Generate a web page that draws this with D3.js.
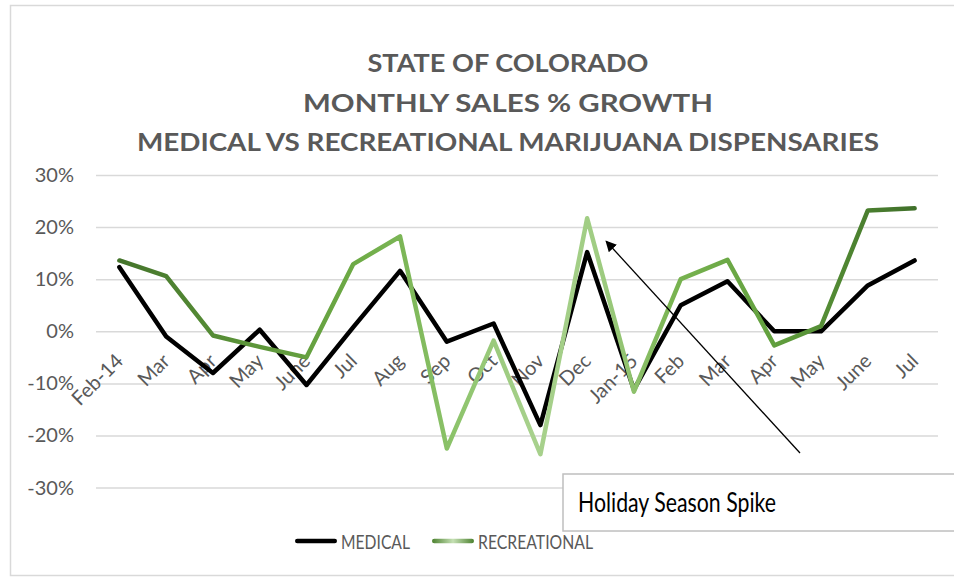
<!DOCTYPE html>
<html>
<head>
<meta charset="utf-8">
<script src="https://cdnjs.cloudflare.com/ajax/libs/d3/7.8.5/d3.min.js"></script>
<style>
  body { margin: 0; background: #fff; overflow: hidden; }
  text { font-family: Lato, "Open Sans", sans-serif; }
</style>
</head>
<body>
<script>

// data
var months = ["Feb-14", "Mar", "Apr", "May", "June", "Jul", "Aug", "Sep", "Oct", "Nov", "Dec",
              "Jan-15", "Feb", "Mar", "Apr", "May", "June", "Jul"];
var medical = [12.3, -1, -8, 0.3, -10.3, 0.8, 11.6, -2, 1.5, -18, 15.2, -11.2, 5, 9.6, 0, 0, 8.8, 13.6];
var recreational = [13.6, 10.6, -0.8, -3, -5, 12.9, 18.2, -22.5, -1.8, -23.6, 21.7, -11.6, 10, 13.7, -2.7, 1, 23.2, 23.6];
var yTicks = [30, 20, 10, 0, -10, -20, -30];
var titleLines = ["STATE OF COLORADO", "MONTHLY SALES % GROWTH", "MEDICAL VS RECREATIONAL MARIJUANA DISPENSARIES"];
var seriesNames = ["MEDICAL", "RECREATIONAL"];
var noteText = "Holiday Season Spike";
var noteMonth = 10;   // Dec (index) the arrow points at

var w = 954;
var h = 577;

var plot_left = 96;
var plot_right = 938;
var y_top = 175;
var y_bottom = 487.6;

var svg = d3.select("body")
	.append("svg")
	.attr("width", w)
	.attr("height", h);

// chart frame
svg.append("rect")
	.attr("x", 10.5).attr("y", 5.5)
	.attr("width", 970).attr("height", 570)
	.attr("fill", "#fff")
	.attr("stroke", "#d9d9d9")
	.attr("stroke-width", 1.5);

var x = d3.scalePoint()
	.domain(d3.range(months.length))
	.range([plot_left, plot_right])
	.padding(0.5);

var y = d3.scaleLinear()
	.domain([-30, 30])
	.range([y_bottom, y_top]);

// TITLE
svg.selectAll(".title")
	.data(titleLines)
	.enter()
	.append("text")
	.attr("class", "title")
	.attr("x", 508)
	.attr("y", function(d, i) { return 72 + i * 39.5; })
	.attr("text-anchor", "middle")
	.attr("font-size", "25px")
	.attr("font-weight", "bold")
	.attr("fill", "#595959")
	.attr("textLength", function(d, i) { return [281, 410, 742][i]; })
	.attr("lengthAdjust", "spacingAndGlyphs")
	.text(function(d) { return d; });

// GRIDLINES + Y LABELS
var yAxis = d3.axisLeft(y)
	.tickValues(yTicks)
	.tickSize(-(plot_right - plot_left))
	.tickPadding(22)
	.tickFormat(function(d) { return d + "%"; });

var gy = svg.append("g")
	.attr("transform", "translate(" + plot_left + ",0)")
	.call(yAxis);
gy.select(".domain").remove();
gy.selectAll(".tick line")
	.attr("stroke", "#d9d9d9")
	.attr("stroke-width", 1.5);
gy.selectAll(".tick text")
	.attr("font-size", "20px")
	.attr("fill", "#595959")
	.attr("font-family", "Lato, sans-serif");

// X LABELS (rotated, hanging just under the 0% line; the lines go over them)
svg.selectAll(".xlab")
	.data(months)
	.enter()
	.append("text")
	.attr("class", "xlab")
	.attr("text-anchor", "end")
	.attr("font-size", "20px")
	.attr("fill", "#595959")
	.attr("transform", function(d, i) {
		return "translate(" + (x(i) + 5) + "," + (y(0) + 31) + ") rotate(-45)";
	})
	.text(function(d) { return d; });

// gradient for recreational line (dark at both ends, pale in the middle)
var defs = svg.append("defs");
var grad = defs.append("linearGradient")
	.attr("id", "recGrad")
	.attr("gradientUnits", "userSpaceOnUse")
	.attr("x1", x(0)).attr("x2", x(months.length - 1))
	.attr("y1", 0).attr("y2", 0);
grad.selectAll("stop")
	.data([
		[0, "#44742b"], [0.15, "#5a9238"], [0.3, "#6eab46"], [0.42, "#8cc36a"],
		[0.52, "#a8d18d"], [0.6, "#a0cd83"], [0.7, "#78b350"], [0.82, "#62a03e"],
		[0.92, "#4e8431"], [1, "#40702a"]
	])
	.enter()
	.append("stop")
	.attr("offset", function(d) { return d[0]; })
	.attr("stop-color", function(d) { return d[1]; });

var legGrad = defs.append("linearGradient")
	.attr("id", "legGrad")
	.attr("x1", 0).attr("x2", 1).attr("y1", 0).attr("y2", 0);
legGrad.selectAll("stop")
	.data([[0, "#4d8230"], [0.5, "#c5e0b4"], [1, "#4d8230"]])
	.enter()
	.append("stop")
	.attr("offset", function(d) { return d[0]; })
	.attr("stop-color", function(d) { return d[1]; });

// LINES
var line = d3.line()
	.x(function(d, i) { return x(i); })
	.y(function(d) { return y(d); });

svg.append("path")
	.datum(medical)
	.attr("d", line)
	.attr("fill", "none")
	.attr("stroke", "#000")
	.attr("stroke-width", 4.5)
	.attr("stroke-linejoin", "round")
	.attr("stroke-linecap", "round");

svg.append("path")
	.datum(recreational)
	.attr("d", line)
	.attr("fill", "none")
	.attr("stroke", "url(#recGrad)")
	.attr("stroke-width", 4.5)
	.attr("stroke-linejoin", "round")
	.attr("stroke-linecap", "round");

// ANNOTATION ARROW
defs.append("marker")
	.attr("id", "arrowhead")
	.attr("viewBox", "0 0 10 10")
	.attr("refX", 9).attr("refY", 5)
	.attr("markerWidth", 11).attr("markerHeight", 11)
	.attr("markerUnits", "userSpaceOnUse")
	.attr("orient", "auto")
	.append("path")
	.attr("d", "M0,0 L10,5 L0,10 z")
	.attr("fill", "#000");

svg.append("line")
	.attr("x1", 800).attr("y1", 453)
	.attr("x2", x(noteMonth) + 19).attr("y2", y(recreational[noteMonth]) + 23)
	.attr("stroke", "#000")
	.attr("stroke-width", 1.3)
	.attr("marker-end", "url(#arrowhead)");

// ANNOTATION BOX
svg.append("rect")
	.attr("x", 563).attr("y", 474)
	.attr("width", 420).attr("height", 57)
	.attr("fill", "#fff")
	.attr("stroke", "#bfbfbf")
	.attr("stroke-width", 1.5);

svg.append("text")
	.attr("x", 578).attr("y", 512)
	.attr("font-size", "26px")
	.attr("fill", "#000")
	.attr("textLength", 198)
	.attr("lengthAdjust", "spacingAndGlyphs")
	.text(noteText);

// LEGEND
var legend = svg.selectAll(".legend")
	.data(seriesNames)
	.enter()
	.append("g")
	.attr("class", "legend")
	.attr("transform", function(d, i) { return "translate(" + [296, 433][i] + ",541)"; });

legend.append("rect")
	.attr("x", -1).attr("y", -2.25)
	.attr("width", 42).attr("height", 4.5)
	.attr("rx", 2.25)
	.attr("fill", function(d, i) { return i == 0 ? "#000" : "url(#legGrad)"; });

legend.append("text")
	.attr("x", 45)
	.attr("y", 7.5)
	.attr("font-size", "19px")
	.attr("fill", "#595959")
	.attr("textLength", function(d, i) { return [69, 115][i]; })
	.attr("lengthAdjust", "spacingAndGlyphs")
	.text(function(d) { return d; });

</script>
</body>
</html>
